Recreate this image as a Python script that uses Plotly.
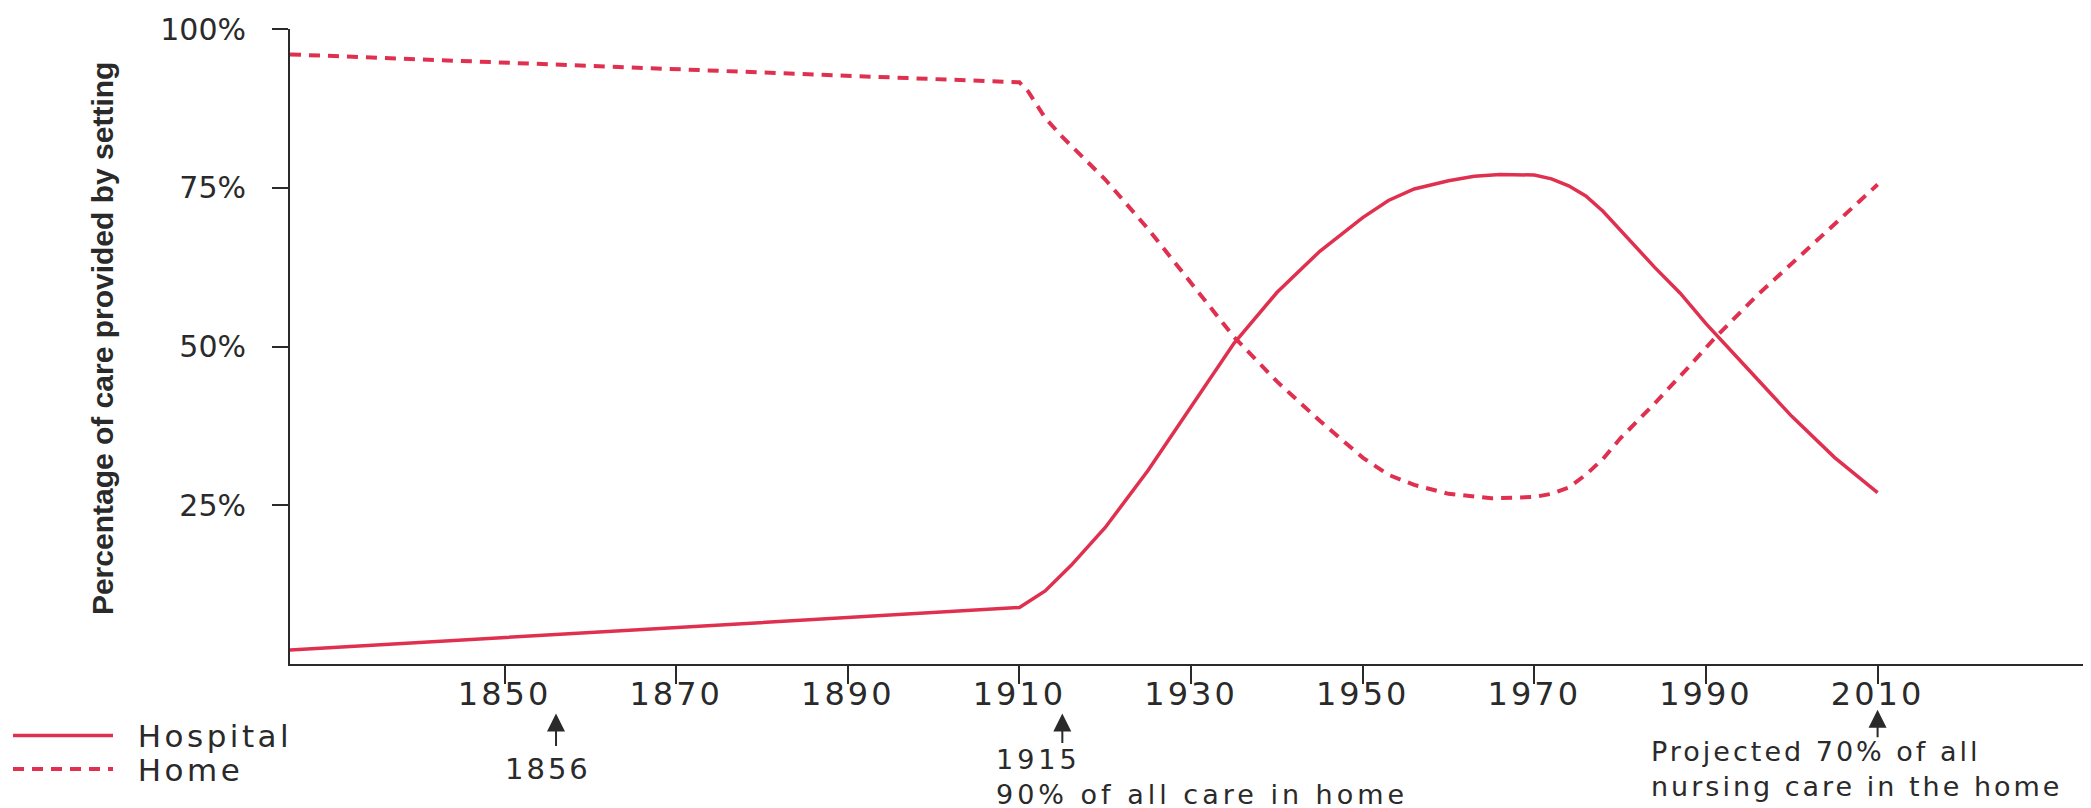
import plotly.graph_objects as go

# ---- data ----
hospital_years = [1825, 1910, 1913, 1916, 1920, 1925, 1930, 1935, 1940, 1945, 1950, 1953,
                  1956, 1960, 1963, 1966, 1970, 1972, 1974, 1976, 1978, 1981, 1984, 1987,
                  1990, 1995, 2000, 2005, 2010]
hospital_pct = [2.2, 8.9, 11.5, 15.5, 21.5, 30.5, 40.5, 50.5, 58.5, 65.0, 70.3, 73.0,
                74.8, 76.1, 76.8, 77.1, 77.0, 76.4, 75.3, 73.7, 71.3, 66.8, 62.5, 58.4,
                53.6, 46.3, 39.0, 32.5, 27.0]

home_years = [1825, 1910, 1911, 1913, 1915, 1920, 1925, 1930, 1935, 1940, 1945, 1950, 1953,
              1956, 1960, 1965, 1970, 1972, 1974, 1976, 1978, 1980, 1984, 1988, 1991, 1996,
              2002, 2006, 2010]
home_pct = [96.0, 91.6, 90.2, 86.0, 83.0, 76.3, 68.5, 60.0, 51.5, 44.5, 38.3, 32.5, 29.8,
            28.2, 26.8, 26.1, 26.3, 26.8, 27.8, 29.8, 32.3, 35.5, 41.0, 46.8, 51.3, 58.1,
            65.5, 70.5, 75.5]

x_tick_vals = [1850, 1870, 1890, 1910, 1930, 1950, 1970, 1990, 2010]
y_tick_vals = [25, 50, 75, 100]
y_tick_text = ["25%", "50%", "75%", "100%"]

y_title = "Percentage of care provided by setting"
notes = [
    # (year, arrow head y, tail length, lines, text y, xshift, xanchor, letter spacing, size)
    (1856, -0.078, 34, ["1856"], -0.165, -8, "center", 3, 29),
    (1915, -0.078, 31, ["1915", "90% of all care in home"], -0.178, -67, "left", 4, 27),
    (2010, -0.072, 29, ["Projected 70% of all", "nursing care in the home"], -0.165, -228,
     "left", 3, 27),
]

RED = "#e0304f"
INK = "#2a2a2a"
FONT = "DejaVu Sans"


def spaced(s, px):
    return '<span style="letter-spacing:%spx">%s</span>' % (px, s)


fig = go.Figure()
fig.add_trace(go.Scatter(x=hospital_years, y=hospital_pct, mode="lines",
                         name="\u00a0\u00a0" + spaced("Hospital", 3.5), legend="legend",
                         line=dict(color=RED, width=3.5)))
fig.add_trace(go.Scatter(x=home_years, y=home_pct, mode="lines",
                         name="\u00a0\u00a0" + spaced("Home", 3.5), legend="legend2",
                         line=dict(color=RED, width=4, dash="11px,8px")))

fig.update_xaxes(range=[1825, 2035.8], tickvals=x_tick_vals,
                 ticktext=[spaced(str(v), 3) for v in x_tick_vals],
                 ticks="outside", ticklen=18, tickwidth=1.5, tickcolor=INK,
                 showline=True, linecolor=INK, linewidth=2, ticklabelstandoff=-17,
                 showgrid=False, zeroline=False,
                 tickfont=dict(family=FONT, size=32, color=INK))
fig.update_yaxes(range=[0, 100], tickvals=y_tick_vals, ticktext=y_tick_text, ticks="outside",
                 ticklen=16, tickwidth=1.5, tickcolor=INK, showline=True, linecolor=INK,
                 linewidth=2, showgrid=False, zeroline=False, ticklabelstandoff=20,
                 tickfont=dict(family=FONT, size=30, color=INK))

ann = [dict(text="<b>" + y_title + "</b>", xref="paper", yref="paper", x=-0.104, y=0.513,
            textangle=-90, showarrow=False, xanchor="center", yanchor="middle",
            font=dict(family="Liberation Sans", size=30, color=INK))]
for year, head_y, tail, lines, ty, xs, xa, sp, fs in notes:
    ann.append(dict(x=year, y=head_y, xref="x", yref="paper", text="", showarrow=True,
                    ax=0, ay=tail, arrowhead=2, arrowsize=1.8, arrowwidth=2, arrowcolor=INK))
    ann.append(dict(x=year, y=ty, xref="x", yref="paper",
                    text="<br>".join(spaced(t, sp) for t in lines),
                    showarrow=False, xanchor=xa, yanchor="middle", xshift=xs, align=xa,
                    borderpad=0, font=dict(family=FONT, size=fs, color=INK)))

leg_common = dict(xanchor="left", yanchor="middle", orientation="v",
                  bgcolor="rgba(0,0,0,0)", itemwidth=100,
                  font=dict(family=FONT, size=31, color=INK))
fig.update_layout(
    width=2091, height=808,
    margin=dict(l=280, r=0, t=21, b=152),
    plot_bgcolor="white", paper_bgcolor="white",
    annotations=ann,
    showlegend=True,
    legend=dict(x=-0.156, y=-0.113, **leg_common),
    legend2=dict(x=-0.156, y=-0.166, **leg_common),
)

fig.write_html("out.html")
